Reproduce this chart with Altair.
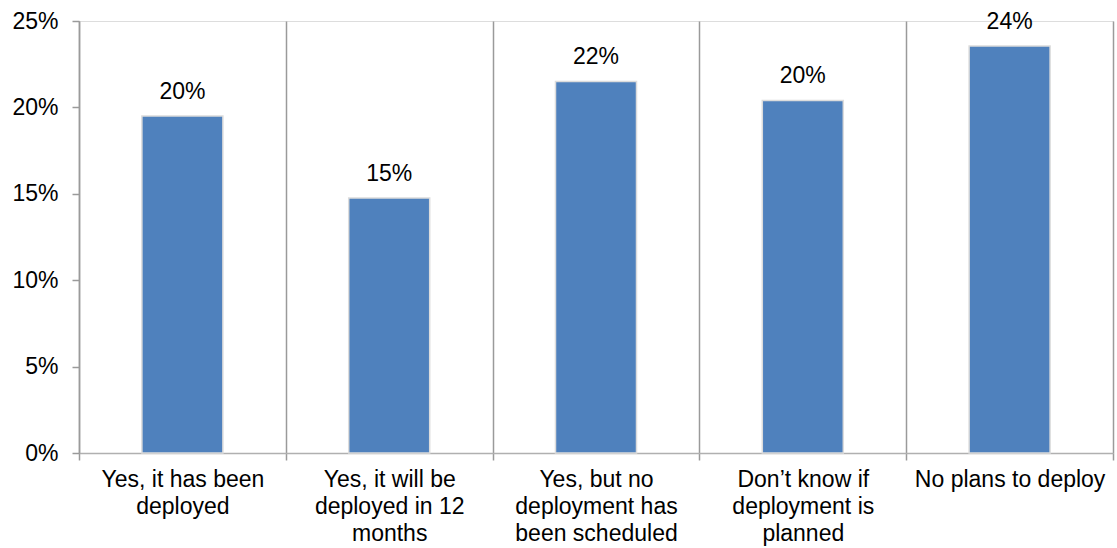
import altair as alt
import pandas as pd

categories = [
    "Yes, it has been deployed",
    "Yes, it will be deployed in 12 months",
    "Yes, but no deployment has been scheduled",
    "Don\u2019t know if deployment is planned",
    "No plans to deploy",
]
label_lines = [
    ["Yes, it has been", "deployed"],
    ["Yes, it will be", "deployed in 12", "months"],
    ["Yes, but no", "deployment has", "been scheduled"],
    ["Don\u2019t know if", "deployment is", "planned"],
    ["No plans to deploy"],
]
values = [0.195, 0.1475, 0.215, 0.204, 0.2355]
value_labels = ["20%", "15%", "22%", "20%", "24%"]

df = pd.DataFrame({"category": categories, "value": values, "label": value_labels})

# mapping for wrapped axis labels
mapping = "{" + ", ".join(
    "'" + c.replace("'", "\\'") + "': [" + ", ".join("'" + l.replace("'", "\\'") + "'" for l in lines) + "]"
    for c, lines in zip(categories, label_lines)
) + "}"

FONT = "Liberation Sans"

x = alt.X(
    "category:N",
    sort=categories,
    title=None,
    scale=alt.Scale(paddingInner=0, paddingOuter=0),
    axis=alt.Axis(
        labelAngle=0,
        labelExpr=mapping + "[datum.label]",
        labelFont=FONT,
        labelFontSize=23,
        labelColor="#000000",
        labelLineHeight=27,
        labelPadding=8,
        labelBaseline="top",
        tickBand="extent",
        grid=True,
        gridColor="#9a9a9a",
        gridWidth=1.5,
        tickColor="#9a9a9a",
        tickWidth=1.5,
        tickSize=7,
        domainColor="#b0b0b0",
        domainWidth=1.5,
        labelLimit=300,
    ),
)

y = alt.Y(
    "value:Q",
    title=None,
    scale=alt.Scale(domain=[0, 0.25], nice=False),
    axis=alt.Axis(
        values=[0, 0.05, 0.10, 0.15, 0.20, 0.25],
        format=".0%",
        grid=False,
        labelFont=FONT,
        labelFontSize=23,
        labelColor="#000000",
        labelPadding=14,
        tickColor="#9a9a9a",
        tickWidth=1.5,
        tickSize=7,
        domainColor="#9a9a9a",
        domainWidth=1.5,
    ),
)

bars = alt.Chart(df).mark_bar(
    size=81, color="#4F81BD", stroke="#dcdcdc", strokeWidth=1.5
).encode(x=x, y=y)

text = alt.Chart(df).mark_text(
    font=FONT, fontSize=23, color="#000000", baseline="alphabetic", dy=-17
).encode(x=alt.X("category:N", sort=categories), y="value:Q", text="label:N")

chart = (
    alt.layer(bars, text)
    .properties(
        width=1034,
        height=432,
        autosize=alt.AutoSizeParams(type="none"),
        padding={"left": 79, "top": 21, "right": 4, "bottom": 95},
    )
    .configure_view(stroke=None)
    .configure(background="white")
)

chart.save("out.html", embed_options={"renderer": "svg", "actions": False})
